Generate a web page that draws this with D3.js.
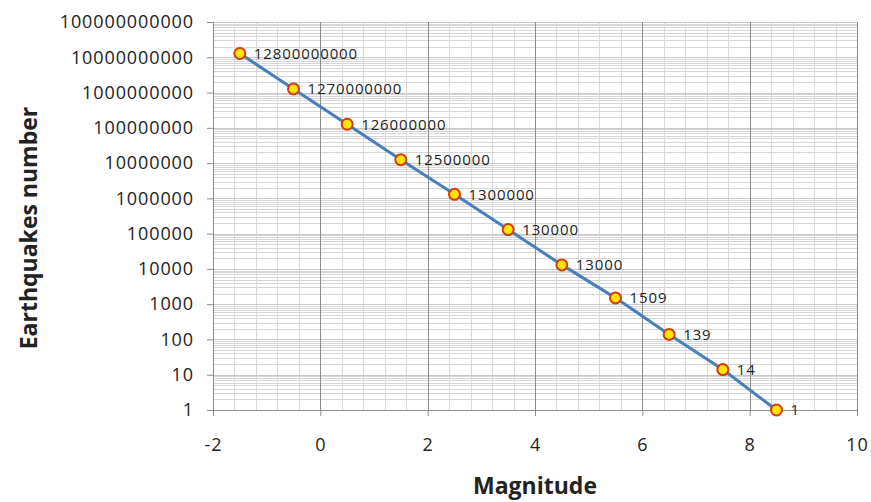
<!DOCTYPE html>
<html>
<head>
<meta charset="utf-8">
<script src="https://cdn.jsdelivr.net/npm/d3@7"></script>
<style>
body { margin: 0; background: #fff; }
text { font-family: "Open Sans", "Liberation Sans", sans-serif; }
</style>
</head>
<body>
<script>
// Magnitude vs. number of earthquakes per year
const magnitudes = [-1.5, -0.5, 0.5, 1.5, 2.5, 3.5, 4.5, 5.5, 6.5, 7.5, 8.5];
const quakeCounts = [12800000000, 1270000000, 126000000, 12500000, 1300000, 130000, 13000, 1509, 139, 14, 1];
const xTicks = [-2, 0, 2, 4, 6, 8, 10];
const yTicks = [1, 10, 100, 1000, 10000, 100000, 1000000, 10000000, 100000000, 1000000000, 10000000000, 100000000000];

const width = 871, height = 502;
const margin = {top: 22, right: 14, bottom: 92, left: 213};
const innerW = width - margin.left - margin.right;
const innerH = height - margin.top - margin.bottom;

const svg = d3.select("body").append("svg")
	.attr("width", width)
	.attr("height", height);

const g = svg.append("g")
	.attr("transform", `translate(${margin.left},${margin.top})`);

const x = d3.scaleLinear().domain([-2, 10]).range([0, innerW]);
const y = d3.scaleLog().domain([1, 1e11]).range([innerH, 0]);

// minor horizontal grid (2..9 in each decade)
const minorY = [];
for (let e = 0; e < 11; e++) {
	for (let k = 2; k <= 9; k++) minorY.push(k * Math.pow(10, e));
}
g.append("g").selectAll("line")
	.data(minorY)
	.join("line")
	.attr("x1", 0).attr("x2", innerW)
	.attr("y1", d => Math.round(y(d)) + 0.5)
	.attr("y2", d => Math.round(y(d)) + 0.5)
	.attr("stroke", "#d6d6d6")
	.attr("stroke-width", 1);

// minor vertical grid every 0.4
const minorX = d3.range(-2, 10.001, 0.4).filter(v => Math.abs(v / 2 - Math.round(v / 2)) > 1e-6);
g.append("g").selectAll("line")
	.data(minorX)
	.join("line")
	.attr("x1", d => Math.round(x(d)) + 0.5)
	.attr("x2", d => Math.round(x(d)) + 0.5)
	.attr("y1", 0).attr("y2", innerH)
	.attr("stroke", "#d9d9d9");

// major horizontal grid
g.append("g").selectAll("line")
	.data(yTicks)
	.join("line")
	.attr("x1", 0).attr("x2", innerW)
	.attr("y1", d => Math.round(y(d)) + 0.5)
	.attr("y2", d => Math.round(y(d)) + 0.5)
	.attr("stroke", "#c8c8c8");

// major vertical grid
g.append("g").selectAll("line")
	.data(xTicks.slice(1))
	.join("line")
	.attr("x1", d => Math.round(x(d)) + 0.5)
	.attr("x2", d => Math.round(x(d)) + 0.5)
	.attr("y1", 0).attr("y2", innerH)
	.attr("stroke", "#8c8c8c");

// axes
const yAxis = g.append("g")
	.call(d3.axisLeft(y).tickValues(yTicks).tickFormat(d3.format("d")).tickSizeOuter(0).tickSize(6).tickPadding(13));
const xAxis = g.append("g")
	.attr("transform", `translate(0,${innerH})`)
	.call(d3.axisBottom(x).tickValues(xTicks).tickSizeOuter(0).tickSize(6).tickPadding(22).tickFormat(d3.format("d")));

[yAxis, xAxis].forEach(a => {
	a.select(".domain").attr("stroke", "#8c8c8c");
	a.selectAll(".tick line").attr("stroke", "#8c8c8c");
	a.selectAll(".tick text")
		.style("font-size", "18px")
		.style("letter-spacing", "0.9px")
		.attr("fill", "#222");
});
xAxis.selectAll(".tick text").text(d => d < 0 ? "-" + Math.abs(d) : d);

// line
g.append("path")
	.datum(magnitudes.map((m, i) => [m, quakeCounts[i]]))
	.attr("fill", "none")
	.attr("stroke", "#4a7ebb")
	.attr("stroke-width", 3)
	.attr("d", d3.line().x(d => x(d[0])).y(d => y(d[1])));

// markers
g.append("g").selectAll("circle")
	.data(magnitudes)
	.join("circle")
	.attr("cx", d => x(d))
	.attr("cy", (d, i) => y(quakeCounts[i]))
	.attr("r", 5.5)
	.attr("fill", "#ffe600")
	.attr("stroke", "#d63a10")
	.attr("stroke-width", 2);

// data labels
g.append("g").selectAll("text")
	.data(magnitudes)
	.join("text")
	.attr("x", d => x(d) + 14)
	.attr("y", (d, i) => y(quakeCounts[i]))
	.attr("dy", "0.35em")
	.style("font-size", "15px")
	.style("letter-spacing", "0.9px")
	.attr("fill", "#222")
	.text((d, i) => quakeCounts[i]);

// axis titles
svg.append("text")
	.attr("x", margin.left + innerW / 2)
	.attr("y", 494)
	.attr("text-anchor", "middle")
	.style("font-size", "23px")
	.style("font-weight", "bold")
	.attr("fill", "#222")
	.text("Magnitude");

svg.append("text")
	.attr("transform", `translate(37,${margin.top + innerH / 2 + 12}) rotate(-90)`)
	.attr("text-anchor", "middle")
	.style("font-size", "23px")
	.style("font-weight", "bold")
	.attr("fill", "#222")
	.text("Earthquakes number");
</script>
</body>
</html>
